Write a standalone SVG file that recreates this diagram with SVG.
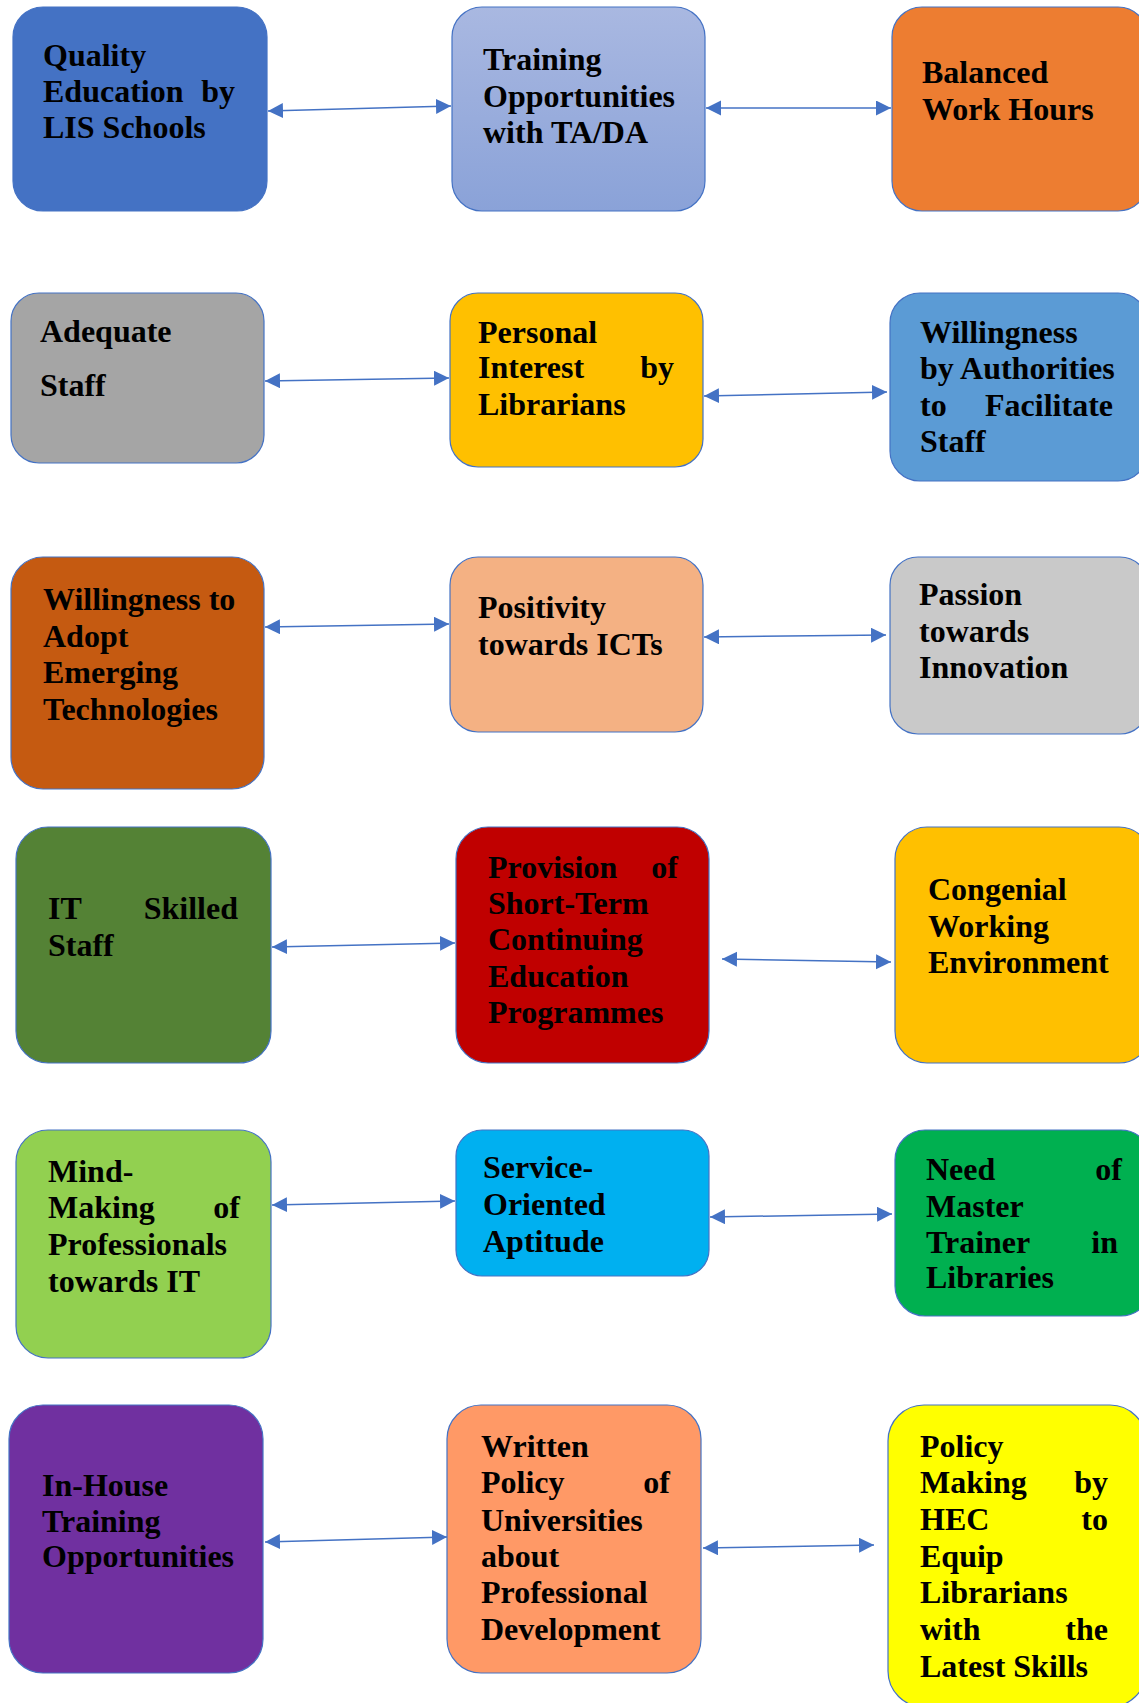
<svg xmlns="http://www.w3.org/2000/svg" width="1139" height="1703" viewBox="0 0 1139 1703">
<style>
.box{stroke:#4472C4;stroke-width:1.2}
.t{font-family:"Liberation Serif","Times New Roman",serif;font-weight:bold;font-size:32px;fill:#000}
.e{text-anchor:end}
.c{fill:none;stroke:#4472C4;stroke-width:1.5}
</style>
<defs>
<linearGradient id="g2" x1="0" y1="0" x2="0" y2="1">
<stop offset="0" stop-color="#A9B8E1"/>
<stop offset="1" stop-color="#8AA2D8"/>
</linearGradient>
<marker id="ah" markerUnits="userSpaceOnUse" markerWidth="16" markerHeight="16" refX="15" refY="7.5" orient="auto-start-reverse">
<path d="M0,0 L15,7.5 L0,15 z" fill="#4472C4"/>
</marker>
</defs>
<rect width="1139" height="1703" fill="#fff"/>

<g id="connectors">
<line class="c" x1="268" y1="111" x2="451" y2="106" marker-start="url(#ah)" marker-end="url(#ah)"/>
<line class="c" x1="706" y1="108" x2="891" y2="108" marker-start="url(#ah)" marker-end="url(#ah)"/>
<line class="c" x1="265" y1="381" x2="449" y2="378" marker-start="url(#ah)" marker-end="url(#ah)"/>
<line class="c" x1="704" y1="396" x2="887" y2="392" marker-start="url(#ah)" marker-end="url(#ah)"/>
<line class="c" x1="265" y1="627" x2="449" y2="624" marker-start="url(#ah)" marker-end="url(#ah)"/>
<line class="c" x1="704" y1="637" x2="886" y2="635" marker-start="url(#ah)" marker-end="url(#ah)"/>
<line class="c" x1="272" y1="947" x2="455" y2="943" marker-start="url(#ah)" marker-end="url(#ah)"/>
<line class="c" x1="722" y1="959" x2="891" y2="962" marker-start="url(#ah)" marker-end="url(#ah)"/>
<line class="c" x1="272" y1="1205" x2="455" y2="1201" marker-start="url(#ah)" marker-end="url(#ah)"/>
<line class="c" x1="710" y1="1217" x2="892" y2="1214" marker-start="url(#ah)" marker-end="url(#ah)"/>
<line class="c" x1="265" y1="1542" x2="447" y2="1537" marker-start="url(#ah)" marker-end="url(#ah)"/>
<line class="c" x1="703" y1="1548" x2="874" y2="1545" marker-start="url(#ah)" marker-end="url(#ah)"/>
</g>

<g id="n1">
<rect class="box" x="13" y="7" width="254" height="204" rx="30" fill="#4472C4"/>
<text class="t" x="43" y="66">Quality</text>
<text class="t" x="43" y="102">Education</text><text class="t e" x="235" y="102">by</text>
<text class="t" x="43" y="138">LIS Schools</text>
</g>
<g id="n2">
<rect class="box" x="452" y="7" width="253" height="204" rx="30" fill="url(#g2)"/>
<text class="t" x="483" y="70">Training</text>
<text class="t" x="483" y="107">Opportunities</text>
<text class="t" x="483" y="143">with TA/DA</text>
</g>
<g id="n3">
<rect class="box" x="892" y="7" width="256" height="204" rx="30" fill="#ED7D31"/>
<text class="t" x="922" y="83">Balanced</text>
<text class="t" x="922" y="120">Work Hours</text>
</g>

<g id="n4">
<rect class="box" x="11" y="293" width="253" height="170" rx="28" fill="#A5A5A5"/>
<text class="t" x="40" y="342">Adequate</text>
<text class="t" x="40" y="396">Staff</text>
</g>
<g id="n5">
<rect class="box" x="450" y="293" width="253" height="174" rx="28" fill="#FFC000"/>
<text class="t" x="478" y="343">Personal</text>
<text class="t" x="478" y="378">Interest</text><text class="t e" x="674" y="378">by</text>
<text class="t" x="478" y="415">Librarians</text>
</g>
<g id="n6">
<rect class="box" x="890" y="293" width="258" height="188" rx="30" fill="#5B9BD5"/>
<text class="t" x="920" y="343">Willingness</text>
<text class="t" x="920" y="379">by Authorities</text>
<text class="t" x="920" y="416">to</text><text class="t e" x="1113" y="416">Facilitate</text>
<text class="t" x="920" y="452">Staff</text>
</g>

<g id="n7">
<rect class="box" x="11" y="557" width="253" height="232" rx="32" fill="#C55A11"/>
<text class="t" x="43" y="610">Willingness to</text>
<text class="t" x="43" y="647">Adopt</text>
<text class="t" x="43" y="683">Emerging</text>
<text class="t" x="43" y="720">Technologies</text>
</g>
<g id="n8">
<rect class="box" x="450" y="557" width="253" height="175" rx="28" fill="#F4B183"/>
<text class="t" x="478" y="618">Positivity</text>
<text class="t" x="478" y="655">towards ICTs</text>
</g>
<g id="n9">
<rect class="box" x="890" y="557" width="258" height="177" rx="28" fill="#C9C9C9"/>
<text class="t" x="919" y="605">Passion</text>
<text class="t" x="919" y="642">towards</text>
<text class="t" x="919" y="678">Innovation</text>
</g>

<g id="n10">
<rect class="box" x="16" y="827" width="255" height="236" rx="32" fill="#548235"/>
<text class="t" x="48" y="919">IT</text><text class="t e" x="238" y="919">Skilled</text>
<text class="t" x="48" y="956">Staff</text>
</g>
<g id="n11">
<rect class="box" x="456" y="827" width="253" height="236" rx="32" fill="#C00000"/>
<text class="t" x="488" y="878">Provision</text><text class="t e" x="678" y="878">of</text>
<text class="t" x="488" y="914">Short-Term</text>
<text class="t" x="488" y="950">Continuing</text>
<text class="t" x="488" y="987">Education</text>
<text class="t" x="488" y="1023">Programmes</text>
</g>
<g id="n12">
<rect class="box" x="895" y="827" width="256" height="236" rx="32" fill="#FFC000"/>
<text class="t" x="928" y="900">Congenial</text>
<text class="t" x="928" y="937">Working</text>
<text class="t" x="928" y="973">Environment</text>
</g>

<g id="n13">
<rect class="box" x="16" y="1130" width="255" height="228" rx="32" fill="#92D050"/>
<text class="t" x="48" y="1182">Mind-</text>
<text class="t" x="48" y="1218">Making</text><text class="t e" x="240" y="1218">of</text>
<text class="t" x="48" y="1255">Professionals</text>
<text class="t" x="48" y="1292">towards IT</text>
</g>
<g id="n14">
<rect class="box" x="456" y="1130" width="253" height="146" rx="26" fill="#00B0F0"/>
<text class="t" x="483" y="1178">Service-</text>
<text class="t" x="483" y="1215">Oriented</text>
<text class="t" x="483" y="1252">Aptitude</text>
</g>
<g id="n15">
<rect class="box" x="895" y="1130" width="256" height="186" rx="30" fill="#00B050"/>
<text class="t" x="926" y="1180">Need</text><text class="t e" x="1122" y="1180">of</text>
<text class="t" x="926" y="1217">Master</text>
<text class="t" x="926" y="1253">Trainer</text><text class="t e" x="1118" y="1253">in</text>
<text class="t" x="926" y="1288">Libraries</text>
</g>

<g id="n16">
<rect class="box" x="9" y="1405" width="254" height="268" rx="34" fill="#7030A0"/>
<text class="t" x="42" y="1496">In-House</text>
<text class="t" x="42" y="1532">Training</text>
<text class="t" x="42" y="1567">Opportunities</text>
</g>
<g id="n17">
<rect class="box" x="447" y="1405" width="254" height="268" rx="34" fill="#FF9966"/>
<text class="t" x="481" y="1457">Written</text>
<text class="t" x="481" y="1493">Policy</text><text class="t e" x="670" y="1493">of</text>
<text class="t" x="481" y="1531">Universities</text>
<text class="t" x="481" y="1567">about</text>
<text class="t" x="481" y="1603">Professional</text>
<text class="t" x="481" y="1640">Development</text>
</g>
<g id="n18">
<rect class="box" x="888" y="1405" width="258" height="302" rx="36" fill="#FFFF00"/>
<text class="t" x="920" y="1457">Policy</text>
<text class="t" x="920" y="1493">Making</text><text class="t e" x="1108" y="1493">by</text>
<text class="t" x="920" y="1530">HEC</text><text class="t e" x="1108" y="1530">to</text>
<text class="t" x="920" y="1567">Equip</text>
<text class="t" x="920" y="1603">Librarians</text>
<text class="t" x="920" y="1640">with</text><text class="t e" x="1108" y="1640">the</text>
<text class="t" x="920" y="1677">Latest Skills</text>
</g>
</svg>
